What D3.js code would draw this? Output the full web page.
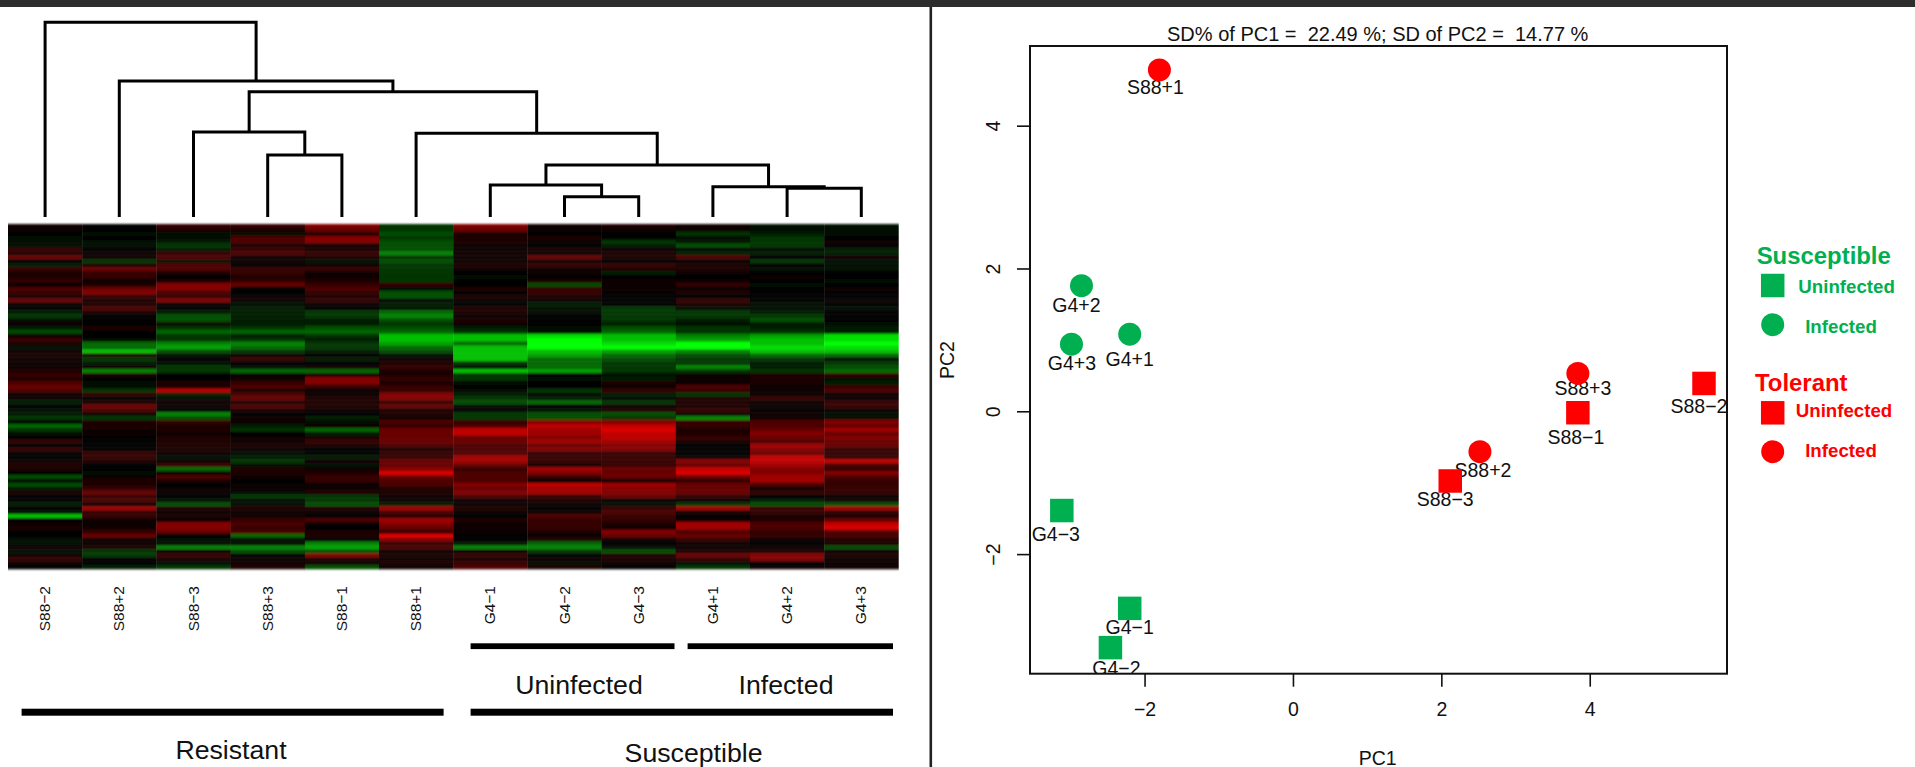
<!DOCTYPE html>
<html><head><meta charset="utf-8">
<script src="https://cdn.jsdelivr.net/npm/d3@7"></script>
<style>
html,body{margin:0;padding:0;background:#fff;overflow:hidden}
svg{display:block}
text{font-family:"Liberation Sans",Arial,sans-serif;fill:#111;white-space:pre}
</style></head><body>
<script>
// ---------- data ----------
const columnLabels = ["S88−2","S88+2","S88−3","S88+3","S88−1","S88+1","G4−1","G4−2","G4−3","G4+1","G4+2","G4+3"];
// heat values, negative = green, positive = red (top row first)
const heatRows = [
[1,0,3,3,6,-3,6,1,2,1,-1,-1],[1,0,2,2,5,-3,5,1,1,1,-1,-1],[0,-1,-1,-1,2,-4,2,0,0,-3,-2,-1],[-1,0,-1,4,6,-3,2,2,0,-1,-3,0],
[-1,-1,-2,4,6,-4,2,1,-3,-2,-3,1],[-1,-1,-3,2,1,-4,1,0,-2,-4,-3,0],[3,0,-2,3,2,-4,1,2,1,-1,-1,-2],[2,1,3,4,3,-6,1,1,2,-2,-2,-2],
[5,1,4,1,2,-3,1,5,2,4,0,1],[0,-3,-1,1,-1,-4,1,1,0,0,-3,-1],[-2,2,4,0,1,-3,2,3,3,2,0,-1],[3,5,4,3,3,-3,1,1,2,2,-1,-1],
[2,3,2,3,1,-3,0,1,-2,1,0,0],[2,3,0,2,1,-3,-1,0,0,0,1,0],[3,1,2,3,2,-3,0,2,1,1,0,-1],[0,2,6,5,3,3,0,-4,1,3,-1,0],
[4,5,6,0,4,-1,2,3,1,1,0,1],[3,6,4,0,3,-4,0,3,0,2,0,0],[2,3,3,1,2,-4,2,2,0,0,0,0],[5,2,6,1,3,-1,1,1,0,3,0,1],
[1,2,1,-1,1,-2,0,-2,0,2,-1,0],[0,4,0,-2,0,-1,2,-1,-3,-1,-1,-1],
[-2,2,-2,-2,-3,-5,2,-1,-3,-3,-2,0],[-3,0,-4,-2,-3,-6,1,0,-3,-3,-3,0],[-1,0,-4,-2,-2,-4,2,0,-3,-2,-4,0],[1,0,1,-2,-2,-3,1,0,-2,-1,-2,-1],
[-2,2,-3,-3,-4,-4,-2,-1,-4,-3,-2,-2],[-4,0,-5,-5,-5,-5,-3,-1,-5,-3,-3,-2],[1,0,-3,-2,-3,-8,-8,-9,-8,-6,-7,-9],[3,-1,-3,-3,-2,-8,-8,-10,-8,-7,-8,-9],
[2,-5,-6,-6,-3,-7,-5,-10,-9,-10,-8,-10],[-1,-5,-7,-5,-3,-5,-8,-10,-10,-10,-9,-9],[1,-8,-4,-3,-2,-4,-8,-8,-7,-6,-8,-8],[2,2,-1,1,0,-1,-8,-7,-5,-4,-5,-5],
[1,-3,0,3,-2,1,-8,-5,-4,-3,-3,-1],[1,-2,-1,0,0,2,-3,-5,-3,-3,-2,-3],[1,1,-3,-1,1,3,-1,-5,-3,-6,-2,-4],[2,-6,-3,-5,-5,2,-8,-7,-3,-3,-3,-5],
[3,2,0,1,2,2,-3,0,-1,1,2,3],[2,0,0,1,6,3,-3,-1,-2,1,2,-1],[4,-1,2,3,6,2,-1,0,2,1,2,-2],[5,-1,2,4,3,3,0,0,1,4,1,3],
[4,-3,8,2,1,3,-1,-3,3,3,1,4],[1,3,-2,4,1,6,-2,-1,-2,-3,1,1],[1,0,-1,5,2,6,-3,-2,-1,2,3,1],
[-2,2,1,2,2,3,-4,-5,-3,2,1,3],[0,5,1,4,2,5,-1,0,1,2,1,3],[-1,4,0,2,1,2,0,-1,2,3,0,1],[-2,1,-6,0,0,2,-3,-4,-4,1,1,-1],
[-3,-3,-4,1,-2,1,-3,-4,-3,-6,1,-1],[0,2,3,1,-1,4,3,6,6,3,4,6],[-5,2,2,-2,1,3,4,8,8,3,4,5],[-3,1,2,-3,-5,5,8,7,9,2,5,7],
[-1,1,1,0,-2,5,8,7,8,2,6,5],[0,0,2,1,2,5,5,6,8,3,5,6],[3,0,2,1,3,5,5,7,7,2,4,5],[0,0,2,2,2,4,4,5,6,0,7,5],
[3,0,2,1,0,2,4,6,6,0,6,3],[0,3,1,-1,0,3,4,3,3,0,5,3],[0,3,-1,-2,-2,3,7,3,3,1,8,3],[1,2,1,-3,1,5,7,3,3,6,8,8],
[2,0,3,-1,-1,5,5,1,3,5,7,4],[2,0,-5,2,1,6,3,7,5,8,6,3],[0,-1,1,2,2,9,4,6,5,9,6,6],[-4,1,4,1,3,5,4,3,5,5,7,4],
[-1,2,2,0,3,4,4,1,1,3,7,3],[-4,2,0,1,1,4,6,8,7,5,4,3],
[-2,3,1,1,1,2,5,7,6,5,1,3],[2,5,1,-1,2,2,6,7,6,5,3,3],[0,3,0,-3,-3,1,4,3,5,3,0,1],[0,4,-1,-1,-3,1,1,2,1,1,-2,1],
[-2,0,-4,-1,-4,-2,1,1,-1,-3,-4,-4],[0,7,2,2,2,7,2,0,3,7,3,7],[-1,3,1,1,1,4,1,1,4,2,3,3],[-8,3,2,1,0,2,0,4,3,0,2,1],
[0,1,0,3,4,7,2,3,3,1,2,5],[1,1,6,4,1,6,1,3,2,7,4,8],[2,1,6,3,0,5,1,3,1,7,4,9],[0,3,5,4,2,3,1,2,6,4,3,4],
[0,5,0,-5,2,9,0,1,5,5,3,4],[-1,1,-1,-1,0,6,0,2,1,3,1,2],[-1,1,-1,-1,-6,3,-2,-5,0,1,0,2],[1,2,-6,-6,-7,4,-6,-6,-1,1,1,-4],
[-1,-3,1,-4,-4,1,1,-3,-4,2,2,1],[1,-3,3,0,6,2,3,0,2,5,6,2],[3,0,2,1,2,1,2,1,2,3,6,1],[1,0,-1,1,1,2,3,-1,1,-1,0,1],
[0,-2,-3,2,-4,1,4,2,0,-3,1,1]
];
// dendrogram merges: [id, left, right, height]; numbers = column index, strings = earlier merge
const dendroMerges = [
["A",3,4,31.84],["B",2,"A",43.66],["C",7,8,10.43],["D",6,"C",16.44],["E",10,11,14.74],["F",9,"E",15.56],
["G","D","F",26.71],["H",5,"G",42.99],["I","B","H",64.36],["J",1,"I",69.85],["K",0,"J",100]
];
const sampleNames = ["S88+1","G4+2","G4+1","G4+3","S88+3","S88−1","S88−2","S88+2","S88−3","G4−3","G4−1","G4−2"];
const pc1 = [-1.80,-2.85,-2.20,-2.985,3.84,3.84,5.54,2.52,2.12,-3.115,-2.20,-2.46];
const pc2 = [4.78,1.76,1.08,0.94,0.53,-0.02,0.39,-0.566,-0.976,-1.39,-2.76,-3.31];
const sampleGroup = ["Tolerant","Susceptible","Susceptible","Susceptible","Tolerant","Tolerant","Tolerant","Tolerant","Tolerant","Susceptible","Susceptible","Susceptible"];
const sampleState = ["Infected","Infected","Infected","Infected","Infected","Uninfected","Uninfected","Infected","Uninfected","Uninfected","Uninfected","Uninfected"];
const xTicks = [-2,0,2,4];
const yTicks = [-2,0,2,4];
const titleText = "SD% of PC1 =  22.49 %; SD of PC2 =  14.77 %";

// ---------- layout / style ----------
const GREEN="#00B050", RED="#FF0000";
const groupColor = {Susceptible:GREEN,Tolerant:RED};
// sample label placement relative to its mark (dx,dy px)
const labelNudge = [[-4,17],[-5,19],[0,25],[0.5,19],[5,15],[-2,24],[-5,23],[3,18.5],[-5,18],[-6,23],[0,19],[6,20]];

const svg = d3.select("body").append("svg").attr("width",1915).attr("height",767);
svg.append("rect").attr("width",1915).attr("height",767).attr("fill","#fff");
svg.append("rect").attr("width",1915).attr("height",7).attr("fill","#2d2d2d");
svg.append("rect").attr("x",929.5).attr("y",7).attr("width",2.6).attr("height",760).attr("fill","#222");

const defs = svg.append("defs");
defs.append("filter").attr("id","soft").attr("x","0").attr("y","-2%").attr("width","100%").attr("height","104%")
  .append("feGaussianBlur").attr("stdDeviation","0 1");
defs.append("clipPath").attr("id","plotClip").append("rect").attr("x",1030).attr("y",46).attr("width",697).attr("height",628);

// ---------- heat map ----------
const colX = d3.scaleBand().domain(d3.range(columnLabels.length)).range([8,898.4]);
const rowY = d3.scaleBand().domain(d3.range(heatRows.length)).range([224,569]);
const heatLevel = d3.scalePow().exponent(1.3).domain([0,10]).range([0,255]);
const heatColor = v => v>=0 ? d3.rgb(heatLevel(v),0,0) : d3.rgb(0,heatLevel(-v),0);
const heat = svg.append("g").attr("filter","url(#soft)");
heatRows.forEach((row,r)=>{
  heat.selectAll(null).data(row).join("rect")
    .attr("x",(d,c)=>colX(c)).attr("y",rowY(r))
    .attr("width",colX.bandwidth()+0.3).attr("height",rowY.bandwidth()+0.3)
    .attr("fill",d=>heatColor(d));
});

// ---------- dendrogram ----------
const dendroY = d3.scaleLinear().domain([0,100]).range([217,22.3]);
const nodes = {};
const nodePos = k => typeof k==="number" ? {x:colX(k)+colX.bandwidth()/2, h:0} : nodes[k];
const dendro = svg.append("g").attr("fill","none").attr("stroke","#000").attr("stroke-width",3);
dendroMerges.forEach(([id,a,b,h])=>{
  const l=nodePos(a), r=nodePos(b);
  dendro.append("path").attr("d",d3.line()([[l.x,dendroY(l.h)],[l.x,dendroY(h)],[r.x,dendroY(h)],[r.x,dendroY(r.h)]]));
  nodes[id]={x:(l.x+r.x)/2,h};
});

// column labels
svg.append("g").selectAll("text").data(columnLabels).join("text")
  .attr("transform",(d,i)=>`translate(${colX(i)+colX.bandwidth()/2+5},586) rotate(-90)`)
  .attr("text-anchor","end").attr("font-size",15.5).text(d=>d);

// group bars
const barData = [[470.6,643.3,203.9,5.8],[687.6,643.3,205.4,5.8],[21.6,708.7,422,7],[470.6,708.7,422.4,7]];
svg.append("g").selectAll("rect").data(barData).join("rect")
  .attr("x",d=>d[0]).attr("y",d=>d[1]).attr("width",d=>d[2]).attr("height",d=>d[3]).attr("fill","#000");
[["Uninfected",579,684],["Infected",786,684],["Resistant",231,749],["Susceptible",693.6,752.5]].forEach(t=>{
  svg.append("text").attr("x",t[1]).attr("y",t[2]).attr("dy","0.36em").attr("text-anchor","middle").attr("font-size",26.7).text(t[0]);
});

// ---------- PCA plot ----------
const x = d3.scaleLinear().domain([-3.544,5.85]).range([1030,1727]);
const y = d3.scaleLinear().domain([-3.675,5.116]).range([673.7,46]);
const xAxis = svg.append("g").attr("transform","translate(0,673.7)").call(d3.axisBottom(x).tickValues(xTicks).tickSize(13).tickPadding(15).tickFormat(d3.format("d")));
const yAxis = svg.append("g").attr("transform","translate(1030,0)").call(d3.axisLeft(y).tickValues(yTicks).tickSize(13).tickFormat(d3.format("d")));
[xAxis,yAxis].forEach(g=>{
  g.select(".domain").remove();
  g.selectAll(".tick line").attr("stroke","#111").attr("stroke-width",1.6);
  g.selectAll("text").attr("font-size",19.5).attr("font-family",'"Liberation Sans",Arial,sans-serif').attr("fill","#111");
});
yAxis.selectAll("text").attr("text-anchor","middle").attr("x",null).attr("dy",null)
  .attr("transform","translate(-35,0) rotate(-90)").attr("y",0).attr("dominant-baseline","middle");

svg.append("rect").attr("x",1030).attr("y",46).attr("width",697).attr("height",627.7)
  .attr("fill","none").attr("stroke","#111").attr("stroke-width",2);

const plot = svg.append("g").attr("clip-path","url(#plotClip)");
const symbolFor = (state,size) => state==="Uninfected"
  ? d3.symbol().type(d3.symbolSquare).size(size*size)()
  : d3.symbol().type(d3.symbolCircle).size(Math.PI*size*size/4)();
plot.selectAll("text").data(sampleNames).join("text")
  .attr("x",(d,i)=>x(pc1[i])+labelNudge[i][0]).attr("y",(d,i)=>y(pc2[i])+labelNudge[i][1])
  .attr("dy","0.36em").attr("text-anchor","middle").attr("font-size",19.5).text(d=>d);
plot.selectAll("path").data(sampleNames).join("path")
  .attr("transform",(d,i)=>`translate(${x(pc1[i])},${y(pc2[i])})`)
  .attr("d",(d,i)=>symbolFor(sampleState[i],sampleState[i]==="Uninfected"?23.5:23))
  .attr("fill",(d,i)=>groupColor[sampleGroup[i]]);

svg.append("text").attr("x",1377.7).attr("y",34).attr("dy","0.36em").attr("text-anchor","middle").attr("font-size",20).text(titleText);
svg.append("text").attr("x",1377.7).attr("y",758).attr("dy","0.36em").attr("text-anchor","middle").attr("font-size",19.5).text("PC1");
svg.append("text").attr("transform","translate(946.5,360) rotate(-90)").attr("dy","0.36em").attr("text-anchor","middle").attr("font-size",19.5).text("PC2");

// ---------- legend ----------
const legendHeads = [["Susceptible",1756.7,255,GREEN],["Tolerant",1755,382.3,RED]];
const legendRows = [
 ["Uninfected",1772.7,285.5,1846.6,286.7,GREEN],["Infected",1772.7,324.7,1841,326.3,GREEN],
 ["Uninfected",1772.7,412.8,1844,410.7,RED],["Infected",1772.7,451.7,1841,450,RED]];
legendHeads.forEach(h=>svg.append("text").attr("x",h[1]).attr("y",h[2]).attr("dy","0.36em").attr("font-size",23.9).attr("font-weight","bold").style("fill",h[3]).text(h[0]));
legendRows.forEach(r=>{
  svg.append("path").attr("transform",`translate(${r[1]},${r[2]})`).attr("d",symbolFor(r[0],r[0]==="Uninfected"?23.5:23)).attr("fill",r[5]);
  svg.append("text").attr("x",r[3]).attr("y",r[4]).attr("dy","0.36em").attr("text-anchor","middle").attr("font-size",18.7).attr("font-weight","bold").style("fill",r[5]).text(r[0]);
});
</script>
</body></html>
